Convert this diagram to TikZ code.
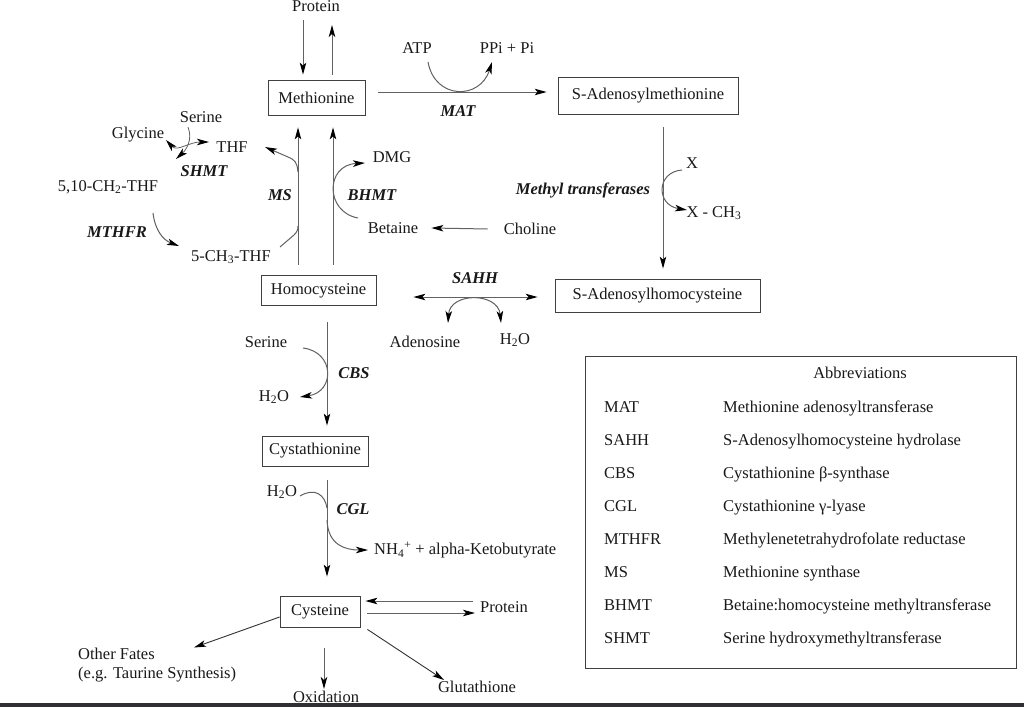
\documentclass[tikz,border=0pt]{standalone}
\usepackage{fontspec}
\setmainfont{Liberation Serif}
\usetikzlibrary{arrows.meta}
\definecolor{stripc}{RGB}{48,48,52}
\begin{document}
\begin{tikzpicture}[x=1pt,y=-1pt,
  font=\fontsize{16.5}{19}\selectfont,
  txt/.style={inner sep=0pt, text=black!90},
  enz/.style={inner sep=0pt, font=\fontsize{16.5}{19}\selectfont\bfseries\itshape, text=black!90},
  box/.style={draw=black!75, line width=0.8pt, inner sep=0pt, text=black!90},
  ln/.style={draw=black!62, line width=1pt},
  arr/.style={ln, -{Stealth[length=12pt,width=6.5pt,inset=3pt,color=black]}},
  darr/.style={ln, {Stealth[length=12pt,width=6.5pt,inset=3pt,color=black]}-{Stealth[length=12pt,width=6.5pt,inset=3pt,color=black]}},
]
\useasboundingbox (0,0) rectangle (1024,707);
\fill[white] (0,0) rectangle (1024,707);
\fill[stripc] (0,703) rectangle (1024,707);

% boxes
\node[box, minimum width=97pt, minimum height=35pt] (met) at (316.5,97.5) {Methionine};
\node[box, minimum width=180pt, minimum height=37pt] (sam) at (648,95.5) {S-Adenosylmethionine};
\node[box, minimum width=115pt, minimum height=30pt] (hcy) at (318.5,290.5) {Homocysteine};
\node[box, minimum width=205pt, minimum height=33pt] (sah) at (657.5,295.5) {S-Adenosylhomocysteine};
\node[box, minimum width=106pt, minimum height=30pt] (cth) at (315,451) {Cystathionine};
\node[box, minimum width=80pt, minimum height=31pt] (cys) at (320,611.5) {Cysteine};

% top protein
\node[txt, anchor=base] (prot1) at (316,11) {Protein};
\coordinate (pdn) at (303,20);
\coordinate (pup) at (332,25);
\draw[arr, shorten >=5pt] (pdn) -- (pdn |- met.north);
\draw[arr, shorten <=5pt] (pup |- met.north) -- (pup);

% MAT
\node[txt] (atp) at (417,48) {ATP};
\node[txt] (ppi) at (507,48) {PPi + Pi};
\node[enz] (mat) at (458,111) {MAT};
\draw[arr] ([xshift=13pt,yshift=5.5pt]met.east) -- ([xshift=-11pt,yshift=3.5pt]sam.west);
\coordinate (atpc) at (428,62);
\coordinate (ppic) at (492,62);
\draw[arr] (atpc) .. controls (435,100) and (480,100) .. (ppic);

% methyl transferases
\draw[arr] ([xshift=15pt,yshift=-13pt]sam.south) -- ([xshift=5.5pt,yshift=10pt]sah.north);
\node[txt] (x) at (692,163) {X};
\node[txt] (xch) at (714,213) {X - CH\textsubscript{3}};
\node[enz] (mtr) at (583,190) {Methyl transferases};
\coordinate (xc) at (682,170);
\coordinate (xchc) at (687,210);
\draw[arr] (xc) .. controls (656,172) and (656,205) .. (xchc);

% BHMT
\node[txt] (dmg) at (392,157) {DMG};
\node[enz] (bhmt) at (372,195) {BHMT};
\node[txt] (bet) at (393,228) {Betaine};
\node[txt] (cho) at (530,229) {Choline};
\draw[arr] ([xshift=-16pt]cho.west) -- ([xshift=13pt]bet.east);
\coordinate (betc) at (358,218);
\coordinate (dmgc) at (365,163);
\draw[arr] (betc) .. controls (325,212) and (325,165) .. (dmgc);

% MS and BHMT lines
\draw[arr] ([xshift=-20.5pt,yshift=10.5pt]hcy.north) -- ([xshift=-18.5pt,yshift=-12pt]met.south);
\draw[arr] ([xshift=14.5pt,yshift=10.5pt]hcy.north) -- ([xshift=16.5pt,yshift=-12pt]met.south);
\node[enz] (ms) at (280,195) {MS};

% folate cycle
\node[txt] (thf) at (232,147) {THF};
\node[txt] (ser1) at (201,117) {Serine};
\node[txt] (gly) at (138,135) {Glycine};
\node[enz] (shmt) at (204,171) {SHMT};
\node[txt] (ch2) at (108,187) {5,10-CH\textsubscript{2}-THF};
\node[enz] (mthfr) at (117,232) {MTHFR};
\node[txt] (ch3) at (231,257) {5-CH\textsubscript{3}-THF};
\coordinate (mst) at (298,172);
\coordinate (thfc) at (265,147);
\draw[arr] (mst) .. controls (297,162) and (295,160) .. (288,157) -- (thfc);
\coordinate (ch3c) at (280,247);
\coordinate (msb) at (298,226);
\draw[ln] (ch3c) -- (294,235) .. controls (297,232) and (298,230) .. (msb);
\coordinate (ser1c) at (188,127);
\coordinate (ch2c) at (176,159);
\draw[arr, line width=0.8pt] (ser1c) .. controls (193,140) and (186,150) .. (ch2c);
\coordinate (glyc) at (166,140);
\coordinate (thfl) at (209,142);
\draw[darr, line width=0.8pt] (glyc) .. controls (177,152) and (189,142) .. (thfl);
\coordinate (ch2b) at (153,213);
\coordinate (ch3a) at (179,246);
\draw[arr] (ch2b) .. controls (155,230) and (163,240) .. (ch3a);

% SAHH
\draw[darr] ([xshift=37pt,yshift=-6.5pt]hcy.east) -- ([xshift=-17pt,yshift=-1.5pt]sah.west);
\node[enz] (sahh) at (475,278) {SAHH};
\node[txt] (ado) at (425,342) {Adenosine};
\node[txt] (h2o1) at (515,340) {H\textsubscript{2}O};
\coordinate (adoc) at (448,323);
\coordinate (h2o1c) at (501,323);
\draw[darr] (adoc) .. controls (450,292) and (498,292) .. (h2o1c);

% CBS
\draw[arr] ([xshift=8.5pt,yshift=-16.5pt]hcy.south) -- ([xshift=12pt,yshift=10pt]cth.north);
\node[txt] (ser2) at (266,342) {Serine};
\node[txt] (h2o2) at (274,397) {H\textsubscript{2}O};
\node[enz] (cbs) at (354,373) {CBS};
\coordinate (ser2c) at (303,348);
\coordinate (h2o2c) at (300,397);
\draw[arr] (ser2c) .. controls (335,352) and (335,392) .. (h2o2c);

% CGL
\draw[arr] ([xshift=12pt,yshift=-14pt]cth.south) -- ([xshift=7pt,yshift=19pt]cys.north);
\node[txt] (h2o3) at (282,492) {H\textsubscript{2}O};
\node[enz] (cgl) at (353,509) {CGL};
\node[txt, anchor=west] (nh4) at (374,550) {NH\textsubscript{4}\textsuperscript{+} + alpha-Ketobutyrate};
\coordinate (h2o3c) at (300,496);
\coordinate (cglin) at (327,508);
\draw[ln] (h2o3c) .. controls (315,487) and (325,495) .. (cglin);
\coordinate (cglout) at (327,520);
\coordinate (nh4c) at (368,550);
\draw[arr] (cglout) .. controls (328,545) and (345,550) .. (nh4c);

% cysteine fates
\node[txt] (prot3) at (504,607) {Protein};
\draw[arr] ([xshift=-7pt,yshift=6pt]prot3.west) -- ([xshift=5pt,yshift=10.5pt]cys.east);
\draw[arr] ([xshift=7pt,yshift=-1.5pt]cys.east) -- ([xshift=-5pt,yshift=-6pt]prot3.west);
\node[txt, anchor=west, align=left] (oth) at (78,665.5) {Other Fates\\(e.g. Taurine Synthesis)};
\draw[arr, line width=0.9pt, draw=black!80] ([yshift=-5.5pt]cys.west) -- ([xshift=116pt,yshift=18pt]oth.west);
\node[txt] (oxi) at (326,697) {Oxidation};
\draw[arr] ([xshift=4pt,yshift=-20.5pt]cys.south) -- ([xshift=-2pt,yshift=2pt]oxi.north);
\node[txt] (glu) at (477,687) {Glutathione};
\draw[arr, line width=0.9pt, draw=black!80] ([xshift=7pt,yshift=-2pt]cys.south east) -- ([xshift=-33pt,yshift=1pt]glu.north);

% abbreviations
\node[box, minimum width=431pt, minimum height=312pt] (abbr) at (800.5,512) {};
\node[txt, anchor=base] (abt) at (860,378.5) {Abbreviations};
\foreach \i/\a/\b in {0/MAT/Methionine adenosyltransferase,
  1/SAHH/S-Adenosylhomocysteine hydrolase,
  2/CBS/Cystathionine β-synthase,
  3/CGL/Cystathionine γ-lyase,
  4/MTHFR/Methylenetetrahydrofolate reductase,
  5/MS/Methionine synthase,
  6/BHMT/Betaine:homocysteine methyltransferase,
  7/SHMT/Serine hydroxymethyltransferase}{
  \node[txt, anchor=base west] (ab\i) at (604,{412.5+33*\i}) {\a};
  \node[txt, anchor=base west] (ad\i) at (723,{412.5+33*\i}) {\b};
}
\end{tikzpicture}
\end{document}
